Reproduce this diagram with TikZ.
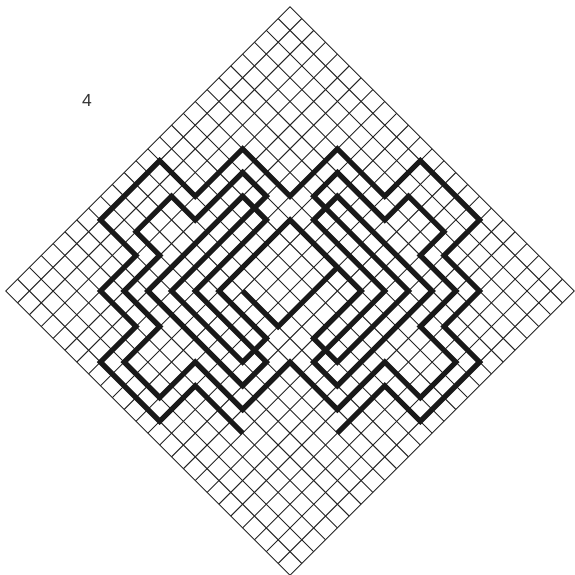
\documentclass[tikz,border=0pt]{standalone}
\usepackage{fontspec}
\setmainfont{Liberation Sans}
\begin{document}
\begin{tikzpicture}[x=1pt,y=-1pt,
  thickline/.style={line width=5.2pt, line join=miter, line cap=butt, draw=black!90},
  gridline/.style={line width=0.95pt, draw=black!85}]
\useasboundingbox (0,0) rectangle (574,575);
\fill[white] (0,0) rectangle (574,575);
\node[text=black!80, font=\fontsize{17.5}{18}\selectfont] (label) at (87,100) {4};
\begin{scope}[shift={(290,6.7)}, x={(11.846pt,-11.846pt)}, y={(-11.846pt,-11.846pt)}]
\foreach \i in {0,...,24} {
  \draw[gridline] (\i,0) -- (\i,24);
  \draw[gridline] (0,\i) -- (24,\i);
}
% outer outline
\draw[thickline] (16,20) -- (12,20) -- (12,23) -- (7,23) -- (7,20) -- (4,20) -- (4,17) -- (1,17) -- (1,12) -- (4,12) -- (4,8) -- (8,8) -- (8,4) -- (12,4) -- (12,1) -- (17,1) -- (17,4) -- (20,4) -- (20,7) -- (23,7) -- (23,12) -- (20,12) -- (20,16);
% inner loop
\draw[thickline] (15,15) -- (15,19) -- (11,19) -- (11,22) -- (8,22) -- (8,19) -- (5,19) -- (5,16) -- (3,16) -- (3,13) -- (5,13) -- (5,9) -- (7,9) -- (7,17) -- (13,17) -- (13,15) -- (9,15) -- (9,9) -- (15,9) -- (15,13) -- (17,13) -- (17,7) -- (9,7) -- (9,5) -- (13,5) -- (13,3) -- (16,3) -- (16,5) -- (19,5) -- (19,8) -- (22,8) -- (22,11) -- (19,11) -- (19,15) -- cycle;
% central hook
\draw[thickline] (13,9) -- (13,14) -- (10,14);
% left hook
\draw[thickline] (6,10) -- (6,18) -- (14,18) -- (14,16) -- (8,16) -- (8,10) -- cycle;
% right hook
\draw[thickline] (10,6) -- (18,6) -- (18,14) -- (16,14) -- (16,8) -- (10,8) -- cycle;
\end{scope}
\end{tikzpicture}
\end{document}
